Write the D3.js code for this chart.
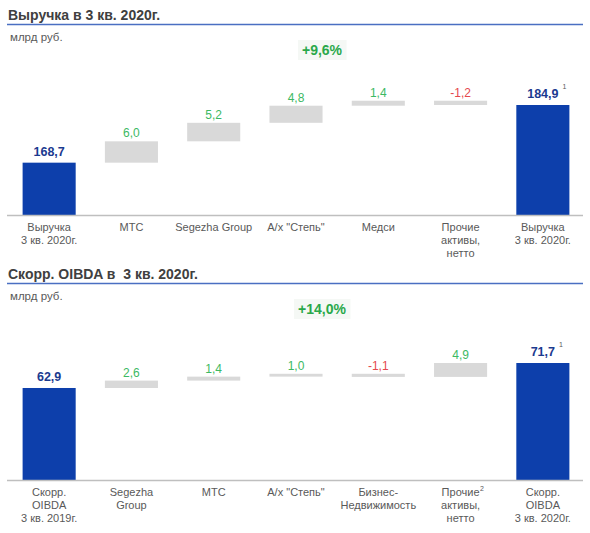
<!DOCTYPE html>
<html>
<head>
<meta charset="utf-8">
<script src="https://cdn.jsdelivr.net/npm/d3@7/dist/d3.min.js"></script>
<style>
  html, body { margin: 0; padding: 0; background: #ffffff; }
  svg { display: block; }
  text { font-family: "Liberation Sans", Arial, sans-serif; }
</style>
</head>
<body>
<svg id="chart" width="590" height="533"></svg>
<script>
// ---------- DATA ----------
const revTitle = "Выручка в 3 кв. 2020г.";
const revUnit = "млрд руб.";
const revGrowth = "+9,6%";
const revCategories = [
  ["Выручка", "3 кв. 2020г."],
  ["МТС"],
  ["Segezha Group"],
  ["А/х \"Степь\""],
  ["Медси"],
  ["Прочие", "активы,", "нетто"],
  ["Выручка", "3 кв. 2020г."]
];
const revValues = [168.7, 6.0, 5.2, 4.8, 1.4, -1.2, 184.9];
const revIsTotal = [true, false, false, false, false, false, true];
const revValueNotes = ["", "", "", "", "", "", "1"];
const revCategoryNotes = ["", "", "", "", "", "", ""];

const oibdaTitle = "Скорр. OIBDA в  3 кв. 2020г.";
const oibdaUnit = "млрд руб.";
const oibdaGrowth = "+14,0%";
const oibdaCategories = [
  ["Скорр.", "OIBDA", "3 кв. 2019г."],
  ["Segezha", "Group"],
  ["МТС"],
  ["А/х \"Степь\""],
  ["Бизнес-", "Недвижимость"],
  ["Прочие", "активы,", "нетто"],
  ["Скорр.", "OIBDA", "3 кв. 2020г."]
];
const oibdaValues = [62.9, 2.6, 1.4, 1.0, -1.1, 4.9, 71.7];
const oibdaIsTotal = [true, false, false, false, false, false, true];
const oibdaValueNotes = ["", "", "", "", "", "", "1"];
const oibdaCategoryNotes = ["", "", "", "", "", "2", ""];

// ---------- STYLE ----------
const C = {
  title: "#404040",
  rule: "#4a6fc2",
  unit: "#595959",
  cat: "#595959",
  axis: "#bfbfbf",
  totalBar: "#0d3fab",
  totalText: "#1b3a8f",
  stepBar: "#d9d9d9",
  pos: "#3cb963",
  neg: "#e5484d",
  growth: "#2aa84a",
  growthBg: "#f5f8f5"
};

const svg = d3.select("#chart");
const locale = d3.formatLocale({ decimal: ",", thousands: " ", grouping: [3], currency: ["", ""], minus: "-" });
const fmt = locale.format(".1f");

function drawPanel(cfg) {
  const g = svg.append("g");
  const n = cfg.values.length;

  // waterfall extents
  let run = 0;
  const bars = cfg.values.map((v, i) => {
    let lo, hi;
    if (cfg.isTotal[i]) { lo = null; hi = v; run = v; }
    else { const s = run; run = run + v; lo = Math.min(s, run); hi = Math.max(s, run); }
    return { i, v, lo, hi, total: cfg.isTotal[i] };
  });

  const x = d3.scaleBand().domain(d3.range(n)).range([8, 584])
    .paddingInner(0.355).paddingOuter(0.1775);
  const y = d3.scaleLinear().domain(cfg.yDomain).range([cfg.axisY, cfg.topY]);

  // title
  g.append("text").attr("x", 8).attr("y", cfg.titleY)
    .attr("font-size", 14).attr("font-weight", "bold").attr("fill", C.title)
    .style("white-space", "pre").text(cfg.title);
  g.append("line").attr("x1", 7).attr("x2", 583)
    .attr("y1", cfg.titleY + 4.5).attr("y2", cfg.titleY + 4.5)
    .attr("stroke", C.rule).attr("stroke-width", 1.3);
  g.append("text").attr("x", 10).attr("y", cfg.titleY + 21)
    .attr("font-size", 11.5).attr("fill", C.unit).text(cfg.unit);

  // growth badge
  const gt = g.append("text").attr("x", 322).attr("y", cfg.titleY + 35)
    .attr("text-anchor", "middle").attr("font-size", 14).attr("font-weight", "bold")
    .attr("fill", C.growth).text(cfg.growth);
  const bb = gt.node().getBBox();
  g.insert("rect", () => gt.node())
    .attr("x", bb.x - 4).attr("y", bb.y - 2).attr("width", bb.width + 8).attr("height", bb.height + 4)
    .attr("fill", C.growthBg);

  // bars
  g.selectAll("rect.bar").data(bars).enter().append("rect")
    .attr("class", "bar")
    .attr("x", d => x(d.i))
    .attr("width", x.bandwidth())
    .attr("y", d => y(d.hi))
    .attr("height", d => d.total ? (cfg.axisY - y(d.hi)) : Math.max(2, y(d.lo) - y(d.hi)))
    .attr("fill", d => d.total ? C.totalBar : C.stepBar);

  // axis baseline
  g.append("line").attr("x1", 7).attr("x2", 583)
    .attr("y1", cfg.axisY + 0.5).attr("y2", cfg.axisY + 0.5)
    .attr("stroke", C.axis).attr("stroke-width", 1.3);

  // value labels
  bars.forEach(d => {
    const cx = x(d.i) + x.bandwidth() / 2;
    const t = g.append("text")
      .attr("x", cx)
      .attr("y", y(d.hi) - (d.total ? 7 : 4))
      .attr("text-anchor", "middle")
      .attr("font-size", d.total ? 12.5 : 12)
      .attr("font-weight", d.total ? "bold" : "normal")
      .attr("fill", d.total ? C.totalText : (d.v < 0 ? C.neg : C.pos))
      .text(fmt(d.v));
    const note = cfg.valueNotes[d.i];
    if (note) {
      const w = t.node().getComputedTextLength();
      g.append("text").attr("x", cx + w / 2 + 4).attr("y", y(d.hi) - 16)
        .attr("font-size", 7).attr("fill", C.cat).text(note);
    }
  });

  // category labels
  cfg.categories.forEach((lines, i) => {
    const cx = x(i) + x.bandwidth() / 2;
    lines.forEach((ln, k) => {
      const t = g.append("text")
        .attr("x", cx).attr("y", cfg.axisY + 16 + k * 12.8)
        .attr("text-anchor", "middle").attr("font-size", 11).attr("fill", C.cat)
        .text(ln);
      const note = cfg.categoryNotes[i];
      if (note && k === 0) {
        const w = t.node().getComputedTextLength();
        g.append("text").attr("x", cx + w / 2 + 0.5).attr("y", cfg.axisY + 11)
          .attr("font-size", 7).attr("fill", C.cat).text(note);
      }
    });
  });
}

drawPanel({
  title: revTitle, unit: revUnit, growth: revGrowth,
  categories: revCategories, values: revValues, isTotal: revIsTotal,
  valueNotes: revValueNotes, categoryNotes: revCategoryNotes,
  titleY: 20, axisY: 215, topY: 105, yDomain: [154.0, 184.9]
});

drawPanel({
  title: oibdaTitle, unit: oibdaUnit, growth: oibdaGrowth,
  categories: oibdaCategories, values: oibdaValues, isTotal: oibdaIsTotal,
  valueNotes: oibdaValueNotes, categoryNotes: oibdaCategoryNotes,
  titleY: 279, axisY: 480, topY: 363, yDomain: [30.5, 71.7]
});
</script>
</body>
</html>
